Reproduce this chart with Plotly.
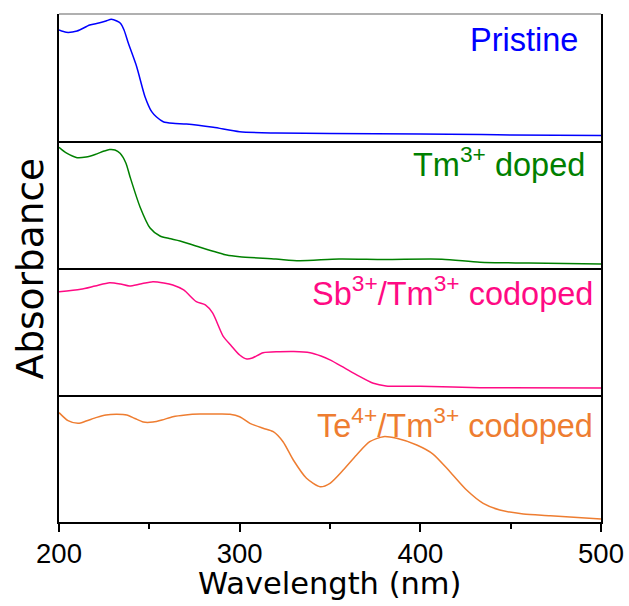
import plotly.graph_objects as go
from plotly.subplots import make_subplots

# ---- data (normalized absorbance, a.u.) ----
wl_pristine = [200, 204, 210, 217, 222, 226, 229, 232, 234, 236, 238.4, 243, 247.6, 251.3, 254, 257.7,
               263, 270.6, 285.4, 300, 320, 350, 400, 434, 450, 500]
abs_pristine = [0.874, 0.856, 0.866, 0.913, 0.929, 0.945, 0.958, 0.945, 0.927, 0.874, 0.769, 0.585, 0.349,
                0.231, 0.189, 0.152, 0.139, 0.134, 0.108, 0.073, 0.063, 0.059, 0.055, 0.051, 0.047, 0.043]

wl_tm = [200, 204, 210, 215, 220, 225, 228, 231, 233.8, 237, 239.3, 244.8, 250.4, 255.9, 261, 267, 278,
         292.8, 300, 320, 333, 355, 380, 412, 433, 460, 500]
abs_tm = [0.950, 0.906, 0.869, 0.874, 0.894, 0.921, 0.933, 0.929, 0.903, 0.827, 0.719, 0.483, 0.315, 0.252,
          0.232, 0.213, 0.163, 0.102, 0.089, 0.071, 0.057, 0.071, 0.067, 0.069, 0.045, 0.039, 0.031]

wl_sb = [200, 212, 220, 228, 234, 239, 245, 252, 258, 263, 269, 276, 281, 285, 291, 295, 300, 304, 307,
         313, 322, 330, 339, 345, 350, 358, 365, 374, 381, 400, 433, 500]
abs_sb = [0.813, 0.832, 0.858, 0.884, 0.874, 0.858, 0.874, 0.892, 0.882, 0.866, 0.827, 0.735, 0.709, 0.646,
          0.459, 0.394, 0.315, 0.283, 0.291, 0.333, 0.341, 0.343, 0.333, 0.307, 0.276, 0.213, 0.157, 0.092,
          0.071, 0.069, 0.057, 0.055]

wl_te = [200, 205, 210.7, 215, 220.9, 226, 232, 237.5, 242, 246.7, 252, 257, 263, 270, 278, 289, 294.6, 300,
         305.7, 313, 318.6, 324, 329.7, 337, 344.5, 350, 357.3, 364.7, 372, 379.5, 386.9, 398, 407, 416.4,
         425.6, 434.8, 444, 457, 472, 500]
abs_te = [0.861, 0.798, 0.777, 0.795, 0.824, 0.843, 0.848, 0.843, 0.815, 0.787, 0.787, 0.803, 0.829, 0.843,
          0.850, 0.850, 0.848, 0.829, 0.777, 0.738, 0.711, 0.632, 0.488, 0.344, 0.278, 0.305, 0.409, 0.528,
          0.632, 0.672, 0.659, 0.606, 0.535, 0.396, 0.252, 0.147, 0.094, 0.063, 0.050, 0.024]

series = [
    ("Pristine", wl_pristine, abs_pristine, "#0000FF"),
    ("Tm<sup>3+</sup> doped", wl_tm, abs_tm, "#008000"),
    ("Sb<sup>3+</sup>/Tm<sup>3+</sup> codoped", wl_sb, abs_sb, "#FF0A84"),
    ("Te<sup>4+</sup>/Tm<sup>3+</sup> codoped", wl_te, abs_te, "#EE7D31"),
]

x_ticks = [200, 300, 400, 500]
x_range = [200, 500]

W, H = 629, 606
ML, MR, MT, MB = 59, 28, 14, 84
PW, PH = W - ML - MR, H - MT - MB

FONT = "Liberation Sans, Arial, sans-serif"
TITLE_FONT = "DejaVu Sans, Liberation Sans, sans-serif"

fig = make_subplots(rows=4, cols=1, shared_xaxes=True, vertical_spacing=0)

for i, (name, x, y, color) in enumerate(series):
    fig.add_trace(go.Scatter(x=x, y=y, mode="lines", name=name,
                             line=dict(color=color, width=1.5, shape="spline", smoothing=0.7),
                             showlegend=False), row=i + 1, col=1)
    fig.update_yaxes(range=[0, 1], showticklabels=False, ticks="", showgrid=False, zeroline=False,
                     showline=True, mirror=True, linecolor="black", linewidth=1.5,
                     automargin=False, row=i + 1, col=1)
    fig.update_xaxes(range=x_range, showgrid=False, zeroline=False, showline=True,
                     linecolor="black", linewidth=2, automargin=False, row=i + 1, col=1)

for r in (1, 2, 3):
    fig.update_xaxes(showticklabels=False, ticks="", row=r, col=1)

fig.update_xaxes(ticks="outside", ticklen=8, tickwidth=1.5, tickcolor="black",
                 tickvals=x_ticks, tickfont=dict(family=FONT, size=27.5, color="black"),
                 ticklabelstandoff=-2,
                 minor=dict(ticks="outside", ticklen=5, tickwidth=1.5, tickcolor="black", dtick=50,
                            tick0=200, showgrid=False),
                 row=4, col=1)

# top border of the top panel (grey)
fig.add_shape(type="line", xref="paper", yref="paper", x0=0, x1=1, y0=1, y1=1,
              line=dict(color="#b0b0b0", width=2))

# panel labels
label_pos = [(580, 60.5), (587, 185.5), (594.5, 313.8), (595, 445.5)]
for (name, _, _, color), (px, py) in zip(series, label_pos):
    fig.add_annotation(text=name, xref="paper", yref="paper",
                       x=(px - ML) / PW, y=(H - MB - py) / PH,
                       xanchor="right", yanchor="bottom", showarrow=False,
                       font=dict(family=FONT, size=32.5, color=color))

# axis titles
fig.add_annotation(text="Wavelength (nm)", xref="paper", yref="paper",
                   x=(329 - ML) / PW, y=(H - MB - 603) / PH,
                   xanchor="center", yanchor="bottom", showarrow=False,
                   font=dict(family=TITLE_FONT, size=30.5, color="black"))
fig.add_annotation(text="Absorbance", xref="paper", yref="paper",
                   x=(29.5 - ML) / PW, y=(H - MB - 269) / PH, textangle=-90,
                   xanchor="center", yanchor="middle", showarrow=False,
                   font=dict(family=TITLE_FONT, size=37.5, color="black"))

fig.update_layout(width=W, height=H, margin=dict(l=ML, r=MR, t=MT, b=MB, autoexpand=False),
                  plot_bgcolor="white", paper_bgcolor="white",
                  font=dict(family=FONT, color="black"))

fig.write_html("out.html")
